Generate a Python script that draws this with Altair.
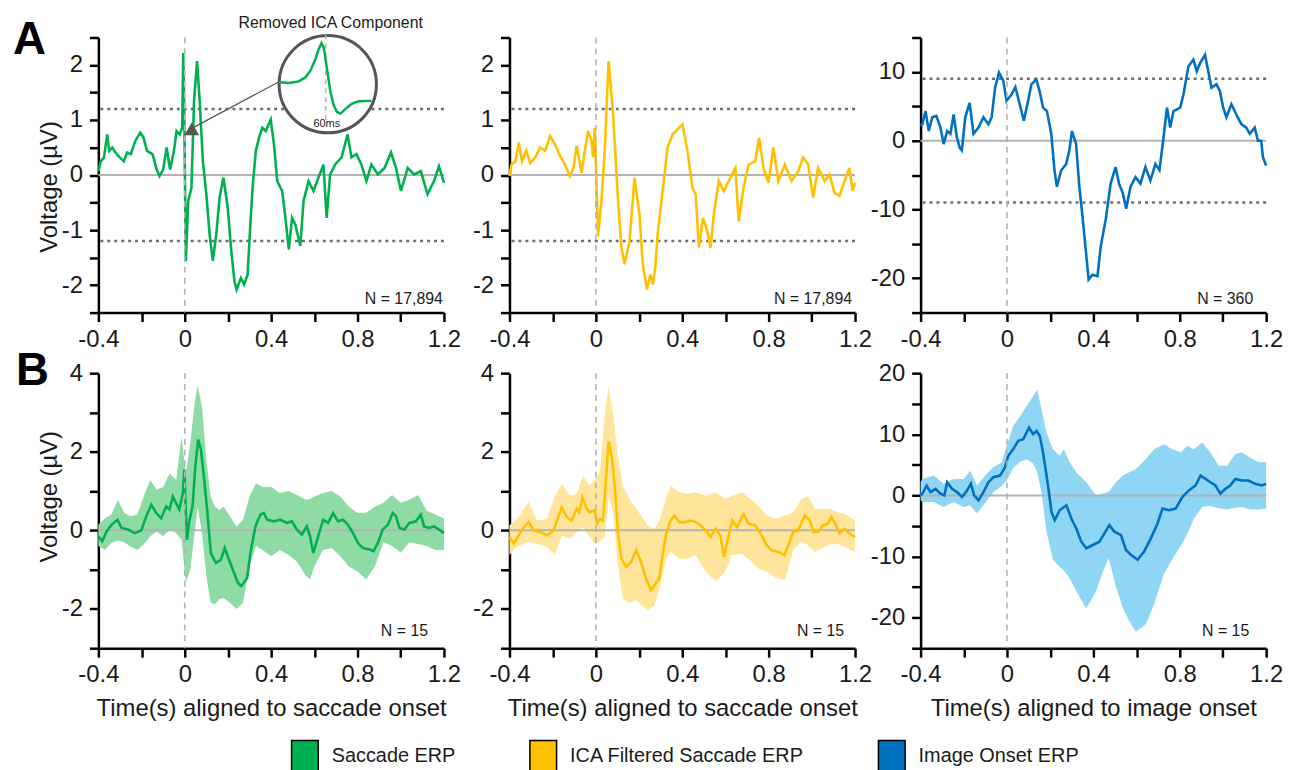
import altair as alt
import pandas as pd

# ---------------- data ----------------
SERIES = ["Saccade ERP", "ICA Filtered Saccade ERP", "Image Onset ERP"]
GREEN, YELLOW, BLUE = "#00B050", "#FFC000", "#0070C0"
BAND_GREEN, BAND_YELLOW, BAND_BLUE = "#8FDBA6", "#FFE59C", "#8ED6F4"

X_TICKS = [-0.4, -0.2, 0.0, 0.2, 0.4, 0.6, 0.8, 1.0, 1.2]
X_LABELS = [-0.4, 0.0, 0.4, 0.8, 1.2]

# Panel A1: Saccade ERP (N = 17,894)
a1_t = [-0.4,-0.389,-0.374,-0.359,-0.35,-0.336,-0.321,-0.301,-0.282,-0.267,
        -0.25,-0.229,-0.206,-0.191,-0.175,-0.149,-0.13,-0.117,-0.1,-0.084,
        -0.068,-0.05,-0.038,-0.023,-0.012,-0.007,-0.003,0.005,0.016,0.031,
        0.043,0.057,0.069,0.084,0.1,0.115,0.13,0.146,0.161,0.179,
        0.199,0.214,0.23,0.24,0.26,0.275,0.291,0.301,0.314,0.329,
        0.344,0.359,0.375,0.398,0.413,0.428,0.451,0.466,0.482,0.497,
        0.512,0.535,0.55,0.573,0.596,0.619,0.642,0.657,0.673,0.696,
        0.726,0.754,0.772,0.795,0.818,0.841,0.864,0.894,0.925,0.955,
        0.978,1.001,1.032,1.062,1.093,1.124,1.154,1.177,1.2]
a1_v = [0.07,0.25,0.32,0.74,0.44,0.50,0.41,0.32,0.25,0.41,
        0.38,0.62,0.77,0.68,0.44,0.38,0.10,-0.02,0.10,0.50,
        0.10,0.44,0.80,0.74,0.86,2.22,1.35,-1.56,-0.47,-0.23,
        1.35,2.07,1.35,0.25,-0.35,-1.08,-1.56,-1.08,-0.41,-0.05,
        -0.59,-1.32,-1.93,-2.08,-1.87,-1.99,-1.81,-1.08,-0.23,0.44,
        0.68,0.86,0.80,1.01,0.56,-0.11,-0.29,-0.78,-1.35,-0.78,
        -0.90,-1.29,-0.47,-0.11,-0.29,-0.05,0.19,-0.78,0.01,0.19,
        0.32,0.74,0.32,0.38,0.19,-0.11,0.19,0.01,0.13,0.41,
        0.13,-0.29,0.13,0.01,0.07,-0.35,-0.11,0.16,-0.14]

# Panel A2: ICA filtered saccade ERP
a2_t = [-0.4,-0.391,-0.372,-0.357,-0.342,-0.322,-0.304,-0.281,-0.258,-0.235,
        -0.212,-0.189,-0.166,-0.143,-0.12,-0.104,-0.089,-0.066,-0.051,-0.036,
        -0.02,-0.013,-0.005,0.0,0.01,0.026,0.041,0.059,0.079,0.102,
        0.118,0.133,0.156,0.179,0.202,0.217,0.237,0.252,0.263,0.275,
        0.286,0.309,0.332,0.355,0.378,0.401,0.424,0.447,0.462,0.477,
        0.496,0.516,0.531,0.546,0.569,0.592,0.63,0.646,0.661,0.684,
        0.707,0.738,0.756,0.776,0.799,0.822,0.845,0.875,0.906,0.937,
        0.96,0.983,1.006,1.029,1.059,1.082,1.105,1.128,1.151,1.174,
        1.189,1.2]
a2_v = [-0.02,0.19,0.25,0.59,0.25,0.44,0.22,0.32,0.50,0.44,
        0.71,0.56,0.35,0.19,-0.02,0.13,0.53,0.04,0.44,0.80,
        0.62,0.32,0.86,0.25,-1.11,-0.47,0.44,2.07,1.16,-0.41,
        -1.32,-1.62,-1.20,-0.05,-0.72,-1.62,-2.08,-1.81,-1.99,-1.68,
        -1.08,-0.29,0.50,0.74,0.83,0.92,0.44,-0.23,-0.35,-1.32,
        -0.78,-1.02,-1.32,-0.72,-0.11,-0.29,0.01,0.13,-0.84,-0.23,
        0.19,0.25,0.68,0.13,-0.14,0.50,-0.11,0.19,-0.11,0.07,
        0.32,0.19,-0.41,0.13,-0.11,0.01,-0.32,-0.38,-0.11,0.13,
        -0.29,-0.14]

# Panel A3: Image onset ERP (N = 360)
a3_t = [-0.4,-0.392,-0.377,-0.362,-0.346,-0.327,-0.308,-0.293,-0.277,-0.262,
        -0.247,-0.232,-0.219,-0.209,-0.193,-0.173,-0.155,-0.132,-0.109,-0.086,
        -0.071,-0.055,-0.037,-0.017,-0.002,0.021,0.039,0.059,0.078,0.098,
        0.113,0.136,0.151,0.167,0.185,0.205,0.22,0.231,0.251,0.274,
        0.289,0.301,0.32,0.335,0.35,0.366,0.378,0.396,0.419,0.434,
        0.457,0.48,0.503,0.519,0.537,0.552,0.572,0.595,0.618,0.641,
        0.664,0.687,0.706,0.725,0.741,0.756,0.771,0.802,0.817,0.84,
        0.863,0.879,0.894,0.917,0.932,0.947,0.97,0.986,1.001,1.016,
        1.039,1.062,1.085,1.108,1.124,1.147,1.162,1.177,1.185,1.2]
a3_v = [2.2,2.4,4.3,1.4,3.4,3.6,1.9,-0.5,1.4,1.0,
        3.8,0.5,-1.0,-1.4,3.4,5.5,1.0,1.9,3.4,2.4,
        3.4,7.7,9.9,8.7,5.8,6.7,7.8,5.3,2.9,5.8,
        8.2,8.9,7.2,4.8,4.3,1.0,-4.3,-6.7,-4.3,-3.4,
        -1.4,1.4,-0.5,-6.7,-11.1,-16.3,-20.2,-19.5,-19.7,-15.4,
        -11.5,-6.25,-3.85,-6.25,-7.7,-9.9,-6.7,-5.3,-6.25,-3.85,
        -5.8,-3.4,-4.3,0.5,4.8,1.9,4.3,4.8,6.7,10.8,
        11.8,10.1,11.3,12.5,10.1,7.7,8.2,7.2,4.8,3.4,
        5.3,3.8,2.4,1.9,1.0,1.9,0.0,0.0,-2.4,-3.6]

# Panel B1: grand average saccade ERP (N = 15)
b1_t = [-0.4,-0.382,-0.362,-0.339,-0.311,-0.293,-0.262,-0.232,-0.201,-0.178,
        -0.155,-0.132,-0.109,-0.086,-0.071,-0.055,-0.04,-0.025,-0.009,-0.002,
        0.01,0.021,0.036,0.049,0.062,0.075,0.09,0.105,0.121,0.144,
        0.167,0.185,0.205,0.228,0.246,0.262,0.289,0.304,0.327,0.35,
        0.366,0.381,0.412,0.442,0.473,0.496,0.519,0.542,0.565,0.58,
        0.595,0.618,0.641,0.664,0.687,0.71,0.733,0.756,0.779,0.802,
        0.825,0.856,0.874,0.894,0.917,0.94,0.963,0.978,0.994,1.017,
        1.04,1.07,1.093,1.108,1.131,1.154,1.177,1.2]
b1_v = [-0.15,-0.28,-0.03,0.14,0.27,0.06,0.02,-0.07,0.0,0.36,
        0.65,0.44,0.31,0.61,0.53,0.86,0.69,0.53,0.95,1.54,
        -0.24,0.23,0.61,1.63,2.31,2.05,1.29,0.44,-0.58,-0.83,
        -0.75,-0.45,-0.75,-1.08,-1.34,-1.42,-1.21,-0.58,0.10,0.40,
        0.44,0.27,0.23,0.27,0.19,0.23,0.02,-0.11,0.10,-0.15,
        -0.58,-0.15,0.27,0.19,0.44,0.23,0.27,0.14,-0.07,-0.32,
        -0.45,-0.49,-0.53,-0.32,0.02,0.14,0.44,0.36,0.06,0.02,
        0.19,0.23,0.40,0.10,0.06,0.10,0.02,-0.07]
b1_band_t = [-0.4,-0.37,-0.34,-0.31,-0.28,-0.25,-0.22,-0.19,-0.16,-0.13,
             -0.1,-0.07,-0.04,-0.015,0.005,0.025,0.045,0.06,0.08,0.1,
             0.12,0.14,0.16,0.18,0.21,0.24,0.27,0.3,0.33,0.36,
             0.4,0.44,0.48,0.52,0.56,0.58,0.6,0.64,0.68,0.72,
             0.76,0.8,0.84,0.88,0.92,0.96,1.0,1.04,1.08,1.12,
             1.16,1.2]
b1_band_hi = [0.15,0.3,0.4,0.78,0.44,0.36,0.4,0.86,1.28,1.03,
              1.1,1.45,1.28,2.38,1.45,2.2,3.2,3.69,3.14,1.79,
              0.86,0.6,0.52,0.6,0.35,0.1,0.27,0.86,1.2,1.1,
              1.11,0.95,1.0,0.9,0.78,0.8,0.86,0.95,1.0,0.86,
              0.6,0.44,0.45,0.6,0.7,0.9,0.7,0.78,0.9,0.5,
              0.4,0.3]
b1_band_lo = [-0.4,-0.5,-0.32,-0.26,-0.3,-0.42,-0.5,-0.36,-0.15,-0.03,
              -0.15,0.02,-0.07,-0.24,-1.33,-1.0,-0.1,0.6,-0.07,-1.16,
              -1.84,-1.88,-1.75,-1.72,-1.84,-2.0,-1.84,-0.9,-0.4,-0.5,
              -0.66,-0.5,-0.62,-0.8,-1.15,-1.25,-0.92,-0.5,-0.45,-0.66,
              -0.92,-1.05,-1.25,-0.92,-0.3,-0.4,-0.57,-0.3,-0.35,-0.4,
              -0.5,-0.5]

# Panel B2: grand average ICA filtered saccade ERP
b2_t = [-0.4,-0.38,-0.357,-0.334,-0.311,-0.288,-0.258,-0.227,-0.196,-0.158,
        -0.135,-0.112,-0.089,-0.077,-0.062,-0.043,-0.028,-0.005,0.006,0.018,
        0.033,0.046,0.059,0.075,0.09,0.102,0.118,0.141,0.164,0.187,
        0.209,0.232,0.255,0.278,0.294,0.309,0.324,0.343,0.363,0.386,
        0.416,0.439,0.462,0.485,0.508,0.531,0.554,0.577,0.592,0.615,
        0.631,0.654,0.684,0.707,0.738,0.768,0.791,0.814,0.845,0.873,
        0.891,0.914,0.937,0.968,0.991,1.006,1.029,1.052,1.075,1.09,
        1.113,1.128,1.151,1.174,1.2]
b2_v = [-0.17,-0.34,-0.13,0.08,0.21,0.0,-0.04,-0.13,0.0,0.59,
        0.34,0.25,0.55,0.46,0.84,0.55,0.46,0.51,0.17,0.29,
        0.25,1.22,2.27,1.81,0.97,-0.04,-0.72,-0.93,-0.80,-0.51,
        -0.80,-1.22,-1.52,-1.35,-1.22,-0.63,-0.13,0.21,0.38,0.21,
        0.21,0.25,0.21,0.13,0.0,-0.17,0.04,-0.13,-0.67,-0.13,
        0.25,0.08,0.42,0.17,0.13,-0.13,-0.38,-0.51,-0.55,-0.63,
        -0.38,-0.04,0.0,0.38,0.25,-0.04,-0.04,0.13,0.17,0.34,
        0.13,-0.08,0.04,-0.08,-0.17]
b2_band_t = [-0.4,-0.365,-0.311,-0.273,-0.227,-0.189,-0.158,-0.12,-0.089,-0.059,
             -0.028,-0.005,0.018,0.041,0.059,0.079,0.102,0.125,0.156,0.187,
             0.209,0.24,0.271,0.294,0.324,0.347,0.386,0.424,0.462,0.508,
             0.554,0.6,0.631,0.677,0.715,0.753,0.791,0.83,0.876,0.914,
             0.952,0.983,1.013,1.044,1.082,1.121,1.151,1.2]
b2_band_hi = [0.13,0.29,0.72,0.25,0.29,0.88,1.18,0.88,0.93,1.39,
              1.14,1.31,1.47,2.91,3.66,2.99,1.9,1.14,0.8,0.55,
              0.38,0.13,0.04,0.25,0.8,1.14,0.97,0.93,0.97,0.88,
              0.97,0.8,0.88,0.97,0.8,0.63,0.38,0.29,0.38,0.46,
              0.8,0.88,0.55,0.55,0.55,0.46,0.42,0.25]
b2_band_lo = [-0.63,-0.42,-0.29,-0.34,-0.42,-0.63,-0.13,-0.21,-0.04,0.08,
              -0.17,-0.35,-0.29,-0.15,0.88,0.46,-0.88,-1.73,-1.85,-1.77,
              -1.9,-2.03,-1.92,-1.5,-0.72,-0.55,-0.72,-0.72,-0.63,-1.05,
              -1.3,-1.05,-0.63,-0.6,-0.78,-0.98,-1.05,-1.2,-1.25,-0.5,
              -0.29,-0.38,-0.55,-0.46,-0.36,-0.35,-0.42,-0.55]

# Panel B3: grand average image onset ERP
b3_t = [-0.4,-0.392,-0.372,-0.354,-0.331,-0.308,-0.29,-0.277,-0.254,-0.231,
        -0.208,-0.185,-0.167,-0.152,-0.132,-0.109,-0.086,-0.063,-0.032,-0.009,
        0.006,0.029,0.052,0.075,0.102,0.121,0.137,0.152,0.167,0.19,
        0.206,0.221,0.244,0.275,0.298,0.321,0.344,0.367,0.398,0.428,
        0.451,0.474,0.497,0.528,0.551,0.574,0.605,0.635,0.666,0.697,
        0.72,0.75,0.781,0.812,0.842,0.873,0.896,0.919,0.942,0.965,
        0.988,1.011,1.034,1.057,1.088,1.118,1.149,1.18,1.2]
b3_v = [0.0,0.27,1.6,0.54,1.08,0.27,0.0,2.16,1.08,0.54,
        -0.27,0.81,1.89,0.0,-0.81,0.54,2.16,2.97,3.24,4.59,
        6.49,7.57,8.92,9.19,11.08,10.0,10.54,9.73,7.03,1.62,
        -2.7,-4.05,-2.43,-1.62,-3.78,-5.41,-7.57,-8.65,-8.11,-7.57,
        -6.22,-4.86,-5.95,-6.49,-8.92,-9.73,-10.54,-9.19,-7.03,-4.59,
        -2.16,-2.43,-2.16,-0.27,0.81,1.62,3.24,2.7,2.16,1.62,
        0.27,1.08,1.62,2.7,2.43,2.43,1.89,1.62,1.89]
b3_band_t = [-0.4,-0.392,-0.339,-0.293,-0.247,-0.201,-0.17,-0.139,-0.101,-0.063,
             -0.024,-0.001,0.029,0.06,0.091,0.121,0.14,0.16,0.183,0.213,
             0.244,0.263,0.29,0.321,0.367,0.413,0.444,0.471,0.505,0.536,
             0.566,0.597,0.643,0.681,0.727,0.766,0.804,0.835,0.865,0.904,
             0.942,0.98,1.019,1.057,1.088,1.126,1.164,1.2]
b3_band_hi = [2.2,2.7,3.24,1.89,2.7,2.7,4.05,1.62,3.24,4.59,
              5.41,8.11,11.35,12.97,14.59,16.22,17.3,14.05,10.27,7.57,
              6.49,7.57,5.41,3.78,2.16,0.0,0.3,0.6,2.16,3.24,
              3.78,4.32,5.95,7.57,8.38,7.57,7.03,8.11,7.57,8.65,
              7.03,4.86,4.86,6.76,7.03,6.22,5.41,5.41]
b3_band_lo = [-0.8,-1.08,-1.08,-1.89,-1.08,-1.89,-1.62,-2.97,-1.2,0.5,
              1.6,2.5,4.5,5.5,5.9,5.2,3.8,0.5,-6.0,-10.5,
              -11.7,-12.3,-13.5,-15.68,-18.5,-15.68,-12.43,-10.27,-15.0,-18.38,
              -20.6,-22.3,-21.08,-17.84,-12.8,-10.4,-8.3,-6.3,-3.8,-1.9,
              -1.75,-2.1,-2.3,-2.0,-1.89,-2.3,-2.3,-2.16]

# Inset: removed ICA component (time in ms, arbitrary amplitude)
ica_ms = [1, 13.5, 26, 34.5, 40.7, 47, 51, 54.6, 57.5, 61.6, 65.9, 70, 74.2, 78.5, 84.8, 93.1, 101.5, 110, 117.5]
ica_v = [0, -0.02, 0.02, 0.125, 0.29, 0.58, 0.83, 0.98, 0.875, 0.33, -0.25, -0.58, -0.75, -0.79, -0.67, -0.54, -0.48, -0.475, -0.47]

# ---------------- styling ----------------
FONT = "Liberation Sans"
W, H = 348, 277
TXT = "#1a1a1a"
BOX_PATH = "M-0.84,-1L0.84,-1L0.84,1L-0.84,1Z"


def lab_expr(labels):
    arr = "[" + ",".join(repr(float(x)) for x in labels) + "]"
    return ("indexof(" + arr + ", datum.value) >= 0 ? (datum.value < 0 ? '-' : '') + "
            "format(abs(datum.value), '~g') : ''")


ONE = pd.DataFrame({"a": [0]})


def panel(line_t, line_v, color, ydom, yticks, ylabels, ytitle=None, ytitle_y=None,
          xtitle=None, thresh=None, band=None, band_color=None, ntext="", npos=(0, 0),
          letter=None, extra=None):
    xs = alt.Scale(domain=[-0.4, 1.2], nice=False, zero=False)
    ys = alt.Scale(domain=ydom, nice=False, zero=False)
    xaxis = alt.Axis(values=X_TICKS, labelExpr=lab_expr(X_LABELS), title=xtitle)
    ykw = dict(values=yticks, labelExpr=lab_expr(ylabels), title=ytitle)
    if ytitle_y is not None:
        ykw["titleY"] = ytitle_y
    yaxis = alt.Axis(**ykw)
    X = alt.X("t:Q", scale=xs, axis=xaxis)

    def Y(f):
        return alt.Y(f + ":Q", scale=ys, axis=yaxis)

    layers = []
    if band is not None:
        bdf = pd.DataFrame({"t": band[0], "hi": band[1], "lo": band[2]})
        layers.append(alt.Chart(bdf).mark_area(color=band_color, opacity=1).encode(
            x=X, y=Y("hi"), y2="lo:Q"))
    layers.append(alt.Chart(pd.DataFrame({"v": [0.0]})).mark_rule(
        color="#b3b3b3", strokeWidth=2).encode(y=Y("v")))
    if thresh is not None:
        layers.append(alt.Chart(pd.DataFrame({"v": [thresh, -thresh]})).mark_rule(
            color="#6e6e6e", strokeWidth=2.5, strokeDash=[3, 4]).encode(y=Y("v")))
    ldf = pd.DataFrame({"t": line_t, "v": line_v})
    layers.append(alt.Chart(ldf).mark_line(color=color, strokeWidth=2.6).encode(x=X, y=Y("v")))
    layers.append(alt.Chart(pd.DataFrame({"t": [0.0]})).mark_rule(
        color="#b3b3b3", strokeWidth=1.6, strokeDash=[6, 5]).encode(x=X))
    layers.append(alt.Chart(ONE).mark_text(
        text=ntext, font=FONT, fontSize=16, color=TXT, align="right", baseline="alphabetic"
    ).encode(x=alt.value(npos[0]), y=alt.value(npos[1])))
    if letter is not None:
        layers.append(alt.Chart(ONE).mark_text(
            text=letter[0], font=FONT, fontSize=46, fontWeight="bold", color="#000000",
            align="left", baseline="alphabetic").encode(x=alt.value(letter[1]), y=alt.value(letter[2])))
    if extra:
        layers += extra
    return alt.layer(*layers)


# legend (filled boxes with black outline)
legend_layer = alt.Chart(pd.DataFrame({"series": SERIES})).transform_filter("false").mark_point(
    shape=BOX_PATH, size=1024, filled=True, stroke="black", strokeWidth=1.5, opacity=1).encode(
    fill=alt.Fill("series:N", scale=alt.Scale(domain=SERIES, range=[GREEN, YELLOW, BLUE]),
                  legend=alt.Legend(title=None, orient="none", legendX=191, legendY=707,
                                    direction="horizontal", columns=3,
                                    symbolType=BOX_PATH, symbolSize=1024,
                                    symbolStrokeColor="black", symbolStrokeWidth=1.5,
                                    symbolOpacity=1, labelFont=FONT, labelFontSize=20,
                                    labelColor=TXT, labelOffset=10, columnPadding=71,
                                    padding=0, labelLimit=500)))

A_TICKS = [-2.5, -2.0, -1.5, -1.0, -0.5, 0.0, 0.5, 1.0, 1.5, 2.0, 2.5]
A_LABELS = [-2, -1, 0, 1, 2]

a1_main = panel(a1_t, a1_v, GREEN, [-2.5, 2.5], A_TICKS, A_LABELS, ytitle="Voltage (µV)",
                ytitle_y=150, thresh=1.2, ntext="N = 17,894", npos=(347, 268),
                letter=("A", -86, 17), extra=[legend_layer])

# inset with removed ICA component
ix = alt.X("ms:Q", scale=alt.Scale(domain=[0, 117.5], range=[181, 275], nice=False, zero=False), axis=None)
iy = alt.Y("iv:Q", scale=alt.Scale(domain=[-1, 1], range=[85, 5], nice=False, zero=False), axis=None)
inset = alt.layer(
    alt.Chart(ONE).mark_rule(color="#555555", strokeWidth=1.2).encode(
        x=alt.value(181), y=alt.value(45), x2=alt.value(95), y2=alt.value(91)),
    alt.Chart(ONE).mark_point(shape="triangle-up", size=225, filled=True, color="#555555", opacity=1).encode(
        x=alt.value(94), y=alt.value(92)),
    alt.Chart(ONE).mark_point(shape="circle", size=9604, filled=True, fill="white",
                              stroke="#555555", strokeWidth=3, opacity=1).encode(
        x=alt.value(231), y=alt.value(47)),
    alt.Chart(pd.DataFrame({"ms": [60.0]})).mark_rule(color="#b3b3b3", strokeWidth=1.5,
                                                      strokeDash=[5, 4]).encode(
        x=ix, y=alt.value(-3), y2=alt.value(84)),
    alt.Chart(pd.DataFrame({"ms": ica_ms, "iv": ica_v})).mark_line(color=GREEN, strokeWidth=2.5).encode(
        x=ix, y=iy),
    alt.Chart(ONE).mark_text(text="60ms", font=FONT, fontSize=11, color=TXT, align="center",
                             baseline="alphabetic").encode(x=alt.value(230), y=alt.value(90)),
    alt.Chart(ONE).mark_text(text="Removed ICA Component", font=FONT, fontSize=16, color=TXT,
                             align="center", baseline="alphabetic").encode(
        x=alt.value(234), y=alt.value(-10)),
)

A1 = alt.layer(a1_main, inset).resolve_scale(x="independent", y="independent").properties(width=W, height=H)
A2 = panel(a2_t, a2_v, YELLOW, [-2.5, 2.5], A_TICKS, A_LABELS, thresh=1.2,
           ntext="N = 17,894", npos=(345, 268)).properties(width=W, height=H)
A3 = panel(a3_t, a3_v, BLUE, [-25, 15], [-25, -20, -15, -10, -5, 0, 5, 10, 15], [-20, -10, 0, 10],
           thresh=9, ntext="N = 360", npos=(335, 268)).properties(width=W, height=H)

B1 = panel(b1_t, b1_v, GREEN, [-3, 4], [-3, -2, -1, 0, 1, 2, 3, 4], [-2, 0, 2, 4],
           ytitle="Voltage (µV)", ytitle_y=124, xtitle="Time(s) aligned to saccade onset",
           band=(b1_band_t, b1_band_hi, b1_band_lo), band_color=BAND_GREEN,
           ntext="N = 15", npos=(332, 265), letter=("B", -83, 12)).properties(width=W, height=H)
B2 = panel(b2_t, b2_v, YELLOW, [-3, 4], [-3, -2, -1, 0, 1, 2, 3, 4], [-2, 0, 2, 4],
           xtitle="Time(s) aligned to saccade onset",
           band=(b2_band_t, b2_band_hi, b2_band_lo), band_color=BAND_YELLOW,
           ntext="N = 15", npos=(337, 265)).properties(width=W, height=H)
B3 = panel(b3_t, b3_v, BLUE, [-25, 20], [-25, -20, -15, -10, -5, 0, 5, 10, 15, 20], [-20, -10, 0, 10, 20],
           xtitle="Time(s) aligned to image onset",
           band=(b3_band_t, b3_band_hi, b3_band_lo), band_color=BAND_BLUE,
           ntext="N = 15", npos=(331, 265)).properties(width=W, height=H)

chart = alt.concat(A1, A2, A3, B1, B2, B3, columns=3,
                   spacing={"row": 61, "column": 66}, bounds="flush").properties(
    padding={"left": 5, "top": 4, "right": 5, "bottom": 5}
).configure_view(
    stroke=None
).configure_axis(
    domainColor="black", domainWidth=2.5, tickColor="black", tickWidth=2.5, tickSize=9,
    labelFont=FONT, labelFontSize=24, labelColor=TXT, titleFont=FONT, titleFontSize=24,
    titleFontWeight="normal", titleColor=TXT, grid=False, labelFlush=False,
    labelOverlap=False, labelBound=False
).configure_axisX(labelPadding=6, titlePadding=10).configure_axisY(labelPadding=7, titlePadding=0)

chart.save("out.html", embed_options={"renderer": "svg", "actions": False})
